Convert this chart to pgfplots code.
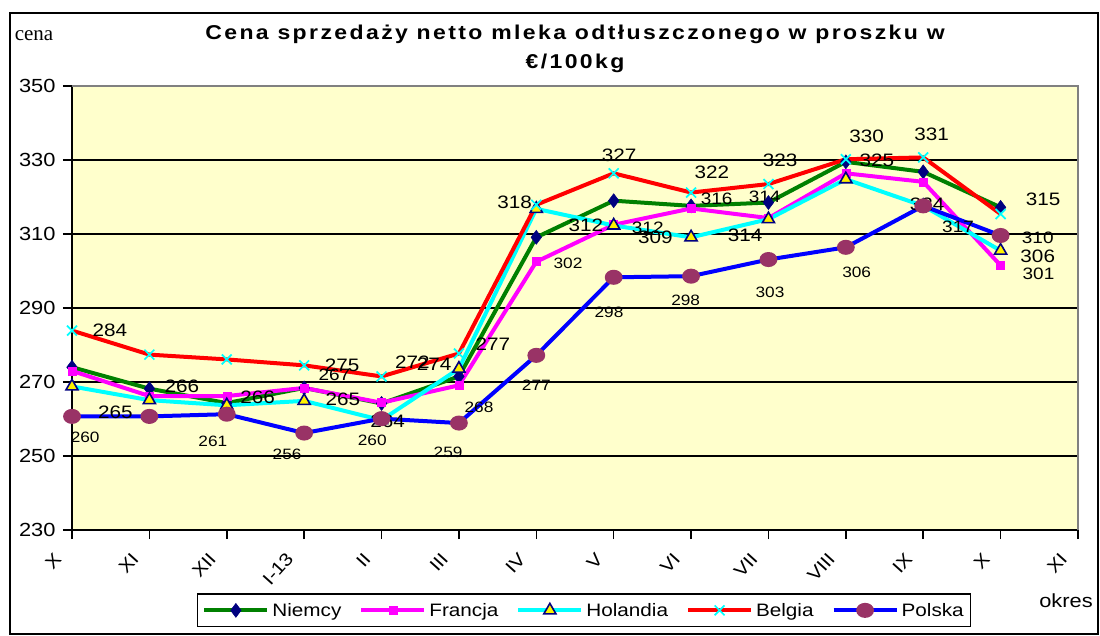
\documentclass[border=0pt]{standalone}
\usepackage{fontspec}
\setmainfont{Liberation Sans}[FakeStretch=1.15]
\newfontfamily\titlefont{Liberation Sans}[FakeStretch=1.15,LetterSpace=12]
\newfontfamily\serifcena{Liberation Serif}
\usepackage{pgfplots}
\pgfplotsset{compat=1.18}

\definecolor{plotbg}{HTML}{FFFFCC}
\definecolor{niemcy}{HTML}{008000}
\definecolor{navy}{HTML}{000080}
\definecolor{francja}{HTML}{FF00FF}
\definecolor{holandia}{HTML}{00FFFF}
\definecolor{belgia}{HTML}{FF0000}
\definecolor{polska}{HTML}{0000FF}
\definecolor{mauve}{HTML}{993366}

\newcommand{\fL}{\fontsize{18bp}{20bp}\selectfont}
\newcommand{\fM}{\fontsize{16.5bp}{18bp}\selectfont}
\newcommand{\fS}{\fontsize{15bp}{17bp}\selectfont}

\begin{document}
\begin{tikzpicture}
\useasboundingbox (-72bp,-106bp) rectangle (1028bp,530bp);
\draw[line width=2bp] (-62bp,-104bp) rectangle (1026bp,517bp);

\begin{axis}[
    at={(0,0)}, anchor=south west,
    scale only axis, width=1006bp, height=444bp,
    xmin=0, xmax=13, ymin=230, ymax=350,
    xtick={0,...,13},
    xticklabels={X,XI,XII,I-13,II,III,IV,V,VI,VII,VIII,IX,X,XI},
    ytick={230,250,...,350},
    axis x line*=bottom, axis y line*=left,
    axis line style={line width=1.5bp, black},
    tick align=outside, major tick length=9bp,
    tick style={line width=1.5bp, black},
    ymajorgrids, grid style={line width=1.2bp, black},
    axis background/.style={fill=plotbg},
    /pgf/number format/assume math mode=true,
    yticklabel style={font=\fontsize{19bp}{20bp}\selectfont, anchor=east, xshift=-4bp},
    xticklabel style={font=\fontsize{18bp}{20bp}\selectfont, xshift=-12bp, yshift=-14bp, rotate=48, anchor=east},
    clip=false,
    legend columns=5,
    legend style={at={(0.509,-0.181)}, anchor=center, draw=black, line width=1.5bp,
        font=\fontsize{18bp}{20bp}\selectfont, inner xsep=5bp, inner ysep=7bp,
        column sep=1bp},
    /tikz/every even column/.append style={column sep=16bp},
    legend image code/.code={
        \draw[mark repeat=2,mark phase=2,#1] plot coordinates {(0bp,0bp) (31.5bp,0bp) (63bp,0bp)};
    },
]

\addplot[niemcy, line width=4bp, mark=diamond*, mark size=7bp,
    mark options={fill=navy, draw=navy, line width=0.5bp}] coordinates {
    (0,274) (1,268.2) (2,264.3) (3,268.4) (4,264.2) (5,271.5) (6,309.1)
    (7,319) (8,317.6) (9,318.5) (10,329.5) (11,326.8) (12,317.2)
};
\addlegendentry{Niemcy}

\addplot[francja, line width=4bp, mark=square*, mark size=4bp,
    mark options={fill=francja, draw=francja, line width=0.5bp}] coordinates {
    (0,273) (1,266.2) (2,266.2) (3,268.4) (4,264.4) (5,269.1) (6,302.5)
    (7,312.5) (8,316.9) (9,314.3) (10,326.4) (11,324.1) (12,301.5)
};
\addlegendentry{Francja}

\addplot[holandia, line width=4bp, mark=triangle*, mark size=7bp,
    mark options={fill=yellow, draw=navy, line width=1.6bp}] coordinates {
    (0,268.8) (1,265.1) (2,263.7) (3,264.9) (4,259.7) (5,273.6) (6,316.8)
    (7,312.3) (8,309.1) (9,314) (10,324.8) (11,317.6) (12,305.5)
};
\addlegendentry{Holandia}

\addplot[belgia, line width=4bp, mark=x, mark size=7bp,
    mark options={draw=holandia, line width=1.7bp}] coordinates {
    (0,283.9) (1,277.4) (2,276.1) (3,274.5) (4,271.5) (5,277.7) (6,317.9)
    (7,326.4) (8,321.2) (9,323.5) (10,330.2) (11,330.7) (12,315.4)
};
\addlegendentry{Belgia}

\addplot[polska, line width=4bp, mark=*, mark size=5.5bp,
    mark options={fill=mauve, draw=mauve, xscale=1.25}] coordinates {
    (0,260.7) (1,260.7) (2,261.3) (3,256.2) (4,260.1) (5,258.9) (6,277.2)
    (7,298.3) (8,298.6) (9,303.1) (10,306.4) (11,317.6) (12,309.6)
};
\addlegendentry{Polska}

% gray border of the plot area
\draw[line width=2bp, gray] (rel axis cs:0,1) -- (rel axis cs:1,1) -- (rel axis cs:1,0);

% data labels
\node[font=\fL] at (axis cs:0.49,283.9) {284};
\node[font=\fL] at (axis cs:0.56,261.8) {265};
\node[font=\fS] at (axis cs:0.17,255) {260};
\node[font=\fL] at (axis cs:1.42,268.8) {266};
\node[font=\fL] at (axis cs:2.4,265.9) {266};
\node[font=\fS] at (axis cs:1.82,254) {261};
\node[font=\fL] at (axis cs:3.49,274.5) {275};
\node[font=\fM] at (axis cs:3.39,272) {267};
\node[font=\fL] at (axis cs:3.5,265.3) {265};
\node[font=\fS] at (axis cs:2.78,250.5) {256};
\node[font=\fL] at (axis cs:4.4,275.3) {272};
\node[font=\fL] at (axis cs:4.68,274.8) {274};
\node[font=\fL] at (axis cs:4.08,259.4) {264};
\node[font=\fS] at (axis cs:3.88,254.3) {260};
\node[font=\fL] at (axis cs:5.44,280.2) {277};
\node[font=\fS] at (axis cs:5.26,263.2) {268};
\node[font=\fS] at (axis cs:4.86,251) {259};
\node[font=\fS] at (axis cs:6.0,269.1) {277};
\node[font=\fL] at (axis cs:5.72,318.7) {318};
\node[font=\fS] at (axis cs:6.41,302) {302};
\node[font=\fL] at (axis cs:7.07,331.4) {327};
\node[font=\fL] at (axis cs:6.64,312.3) {312};
\node[font=\fM] at (axis cs:7.44,311.7) {312};
\node[font=\fL] at (axis cs:7.54,309) {309};
\node[font=\fS] at (axis cs:6.94,288.8) {298};
\node[font=\fL] at (axis cs:8.27,326.8) {322};
\node[font=\fM] at (axis cs:8.33,319.5) {316};
\node[font=\fS] at (axis cs:7.93,292) {298};
\node[font=\fL] at (axis cs:8.7,309.6) {314};
\node[font=\fL] at (axis cs:9.15,329.8) {323};
\node[font=\fM] at (axis cs:8.95,320) {314};
\node[font=\fS] at (axis cs:9.02,294.2) {303};
\node[font=\fL] at (axis cs:10.27,336.3) {330};
\node[font=\fL] at (axis cs:10.4,329.8) {325};
\node[font=\fS] at (axis cs:10.14,299.6) {306};
\node[font=\fL] at (axis cs:11.11,337) {331};
\node[font=\fL] at (axis cs:11.05,317.9) {324};
\node[font=\fM] at (axis cs:11.45,312) {317};
\node[font=\fL] at (axis cs:12.55,319.3) {315};
\node[font=\fM] at (axis cs:12.48,309) {310};
\node[font=\fL] at (axis cs:12.48,303.9) {306};
\node[font=\fM] at (axis cs:12.49,299.3) {301};
\end{axis}

\node[align=center, font=\titlefont\bfseries\fontsize{20bp}{29bp}\selectfont] at (503bp,481bp)
    {Cena sprzedaży netto mleka odtłuszczonego w proszku w\\€/100kg};
\node[font=\serifcena\fontsize{21bp}{22bp}\selectfont] at (-38bp,494bp) {cena};
\node[font=\fontsize{19bp}{20bp}\selectfont] at (994bp,-71bp) {okres};
\end{tikzpicture}
\end{document}
